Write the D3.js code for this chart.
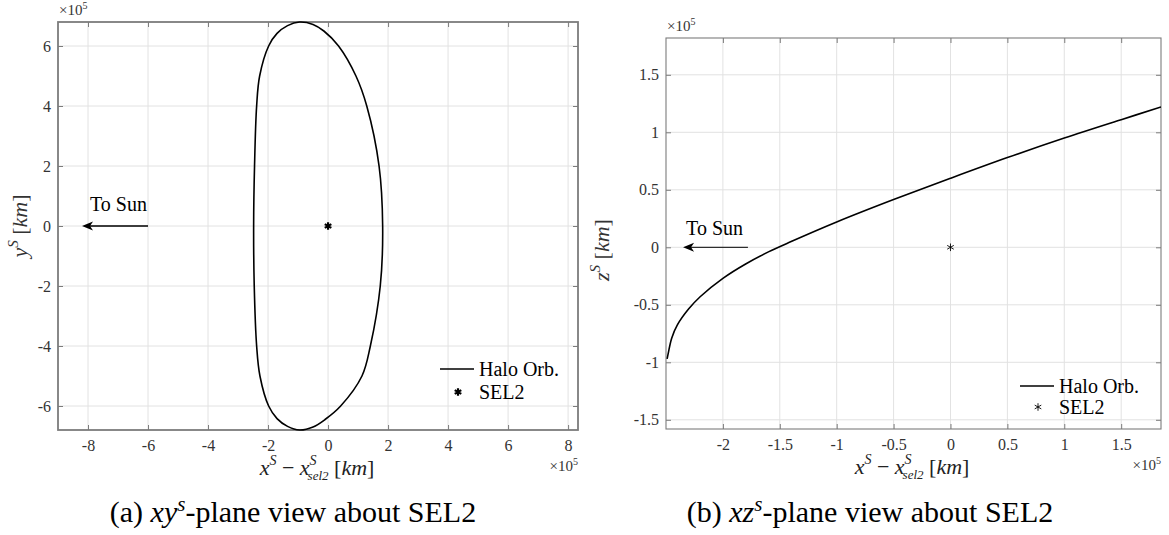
<!DOCTYPE html>
<html>
<head>
<meta charset="utf-8">
<script src="https://cdn.jsdelivr.net/npm/d3@7"></script>
<style>
  body { margin: 0; background: #fff; }
  svg, svg text { font-family: "Liberation Serif", "Tinos", "Times New Roman", "DejaVu Serif", "Noto Serif", serif; }
</style>
</head>
<body>
<script>
// halo orbit, xy view (units of 1e5 km)
const haloXY_x = [-0.95, -0.50, -0.14, 0.35, 0.93, 1.29, 1.70, 1.82, 1.74, 1.41, 1.13, 0.42, -0.10, -0.50, -0.95,
                  -1.35, -1.70, -1.98, -2.27, -2.38, -2.46, -2.48, -2.45, -2.38, -2.28, -1.98, -1.70, -1.35];
const haloXY_y = [6.8, 6.72, 6.5, 6.0, 5.0, 4.0, 2.0, 0.0, -2.0, -4.0, -5.0, -6.0, -6.45, -6.7, -6.8,
                  -6.68, -6.42, -6.0, -5.0, -4.0, -2.0, 0.0, 2.0, 4.0, 5.0, 6.0, 6.42, 6.68];

// halo orbit, xz view
const haloXZ_x = [-2.49, -2.48, -2.45, -2.4, -2.3, -2.2, -2.0, -1.8, -1.6, -1.4, -1.0, -0.5, 0.0, 0.5, 1.0, 1.5, 1.85];
const haloXZ_z = [-0.97, -0.92, -0.79, -0.675, -0.535, -0.43, -0.27, -0.145, -0.04, 0.05, 0.22, 0.415, 0.60, 0.78, 0.95, 1.11, 1.22];

const sel2 = [0, 0];

const xyTicksX = [-8, -6, -4, -2, 0, 2, 4, 6, 8];
const xyTicksY = [-6, -4, -2, 0, 2, 4, 6];
const xzTicksX = [-2, -1.5, -1, -0.5, 0, 0.5, 1, 1.5];
const xzTicksY = [-1.5, -1, -0.5, 0, 0.5, 1, 1.5];

const sunArrowXY = [-6, -8.2];
const sunArrowXZ = [-1.78, -2.35];

const legendLabels = ["Halo Orb.", "SEL2"];

const serif = '"Liberation Serif", "Tinos", "Times New Roman", "DejaVu Serif", "Noto Serif", serif';

const svg = d3.select("body").append("svg")
    .attr("width", 1169)
    .attr("height", 535)
    .attr("font-family", serif);

// asterisk marker path (d3.symbolAsterisk if present)
function starPath(size) {
    if (d3.symbolAsterisk) return d3.symbol(d3.symbolAsterisk, size)();
    const r = Math.sqrt(size) / 2;
    let p = "";
    for (let k = 0; k < 3; k++) {
        const a = k * Math.PI / 3 + Math.PI / 2;
        p += `M${-r * Math.cos(a)},${-r * Math.sin(a)}L${r * Math.cos(a)},${r * Math.sin(a)}`;
    }
    return p;
}

function panel(o) {
    const g = svg.append("g");
    const x = d3.scaleLinear().domain(o.xDom).range([o.left, o.right]);
    const y = d3.scaleLinear().domain(o.yDom).range([o.bottom, o.top]);

    const clipId = "clip" + o.id;
    svg.append("clipPath").attr("id", clipId)
        .append("rect")
        .attr("x", o.left).attr("y", o.top - 1)
        .attr("width", o.right - o.left).attr("height", o.bottom - o.top + 2);

    // grid
    g.selectAll(".gx").data(o.ticksX).enter().append("line")
        .attr("x1", d => x(d)).attr("x2", d => x(d))
        .attr("y1", o.top).attr("y2", o.bottom)
        .attr("stroke", "#e2e2e2").attr("stroke-width", 1);
    g.selectAll(".gy").data(o.ticksY).enter().append("line")
        .attr("y1", d => y(d)).attr("y2", d => y(d))
        .attr("x1", o.left).attr("x2", o.right)
        .attr("stroke", "#e2e2e2").attr("stroke-width", 1);

    // axes with inward ticks
    const fmt = d => String(d);
    const axCol = "#7c7c7c";
    const bottomAx = g.append("g")
        .attr("transform", "translate(0," + o.bottom + ")")
        .call(d3.axisBottom(x).tickValues(o.ticksX).tickFormat(fmt).tickSizeInner(-5).tickSizeOuter(0).tickPadding(10));
    const leftAx = g.append("g")
        .attr("transform", "translate(" + o.left + ",0)")
        .call(d3.axisLeft(y).tickValues(o.ticksY).tickFormat(fmt).tickSizeInner(-5).tickSizeOuter(0).tickPadding(7));
    const topAx = g.append("g")
        .attr("transform", "translate(0," + o.top + ")")
        .call(d3.axisTop(x).tickValues(o.ticksX).tickFormat("").tickSizeInner(-5).tickSizeOuter(0));
    const rightAx = g.append("g")
        .attr("transform", "translate(" + o.right + ",0)")
        .call(d3.axisRight(y).tickValues(o.ticksY).tickFormat("").tickSizeInner(-5).tickSizeOuter(0));
    [bottomAx, leftAx, topAx, rightAx].forEach(a => {
        a.attr("font-family", serif).attr("font-size", 16);
        a.select(".domain").remove();
        a.selectAll(".tick line").attr("stroke", axCol).attr("stroke-width", 1);
        a.selectAll("text").attr("fill", "#333");
    });

    g.append("rect")
        .attr("x", o.left).attr("y", o.top)
        .attr("width", o.right - o.left).attr("height", o.bottom - o.top)
        .attr("fill", "none").attr("stroke", axCol).attr("stroke-width", o.boxW);

    // halo orbit
    const line = d3.line()
        .x(d => x(d[0])).y(d => y(d[1]))
        .curve(o.closed ? d3.curveCatmullRomClosed : d3.curveCatmullRom);
    g.append("path")
        .datum(o.px.map((v, i) => [v, o.py[i]]))
        .attr("clip-path", "url(#" + clipId + ")")
        .attr("d", line)
        .attr("fill", "none").attr("stroke", "#000").attr("stroke-width", 1.6);

    // SEL2
    g.append("path")
        .attr("d", starPath(o.starSize))
        .attr("transform", "translate(" + x(sel2[0]) + "," + y(sel2[1]) + ")")
        .attr("fill", "none").attr("stroke", "#000").attr("stroke-width", o.starW);

    // To Sun arrow
    const ay = y(0);
    const x0 = x(o.arrow[0]), x1 = x(o.arrow[1]);
    g.append("line")
        .attr("x1", x0).attr("x2", x1 + 6).attr("y1", ay).attr("y2", ay)
        .attr("stroke", "#000").attr("stroke-width", o.arrowW);
    g.append("path")
        .attr("d", `M${x1},${ay}L${x1 + 11},${ay - 4.5}L${x1 + 8},${ay}L${x1 + 11},${ay + 4.5}Z`)
        .attr("fill", "#000");
    g.append("text")
        .attr("x", x1 + o.sunDx).attr("y", ay - o.sunDy)
        .attr("font-size", 20).attr("fill", "#000")
        .text("To Sun");

    // legend
    const lg = g.append("g").attr("transform", "translate(" + o.legX + "," + o.legY + ")");
    lg.append("line").attr("x1", 0).attr("x2", 34).attr("y1", 0).attr("y2", 0)
        .attr("stroke", "#000").attr("stroke-width", 1.6);
    lg.append("path").attr("d", starPath(o.starSize))
        .attr("transform", "translate(18," + o.legGap + ")")
        .attr("fill", "none").attr("stroke", "#000").attr("stroke-width", o.starW);
    lg.selectAll(".lt").data(legendLabels).enter().append("text")
        .attr("x", 39).attr("y", (d, i) => i * o.legGap)
        .attr("dy", "0.33em")
        .attr("font-size", 20).attr("fill", "#000")
        .text(d => d);

    // exponent labels
    const expo = (tx, ty, anchor) => {
        const t = g.append("text").attr("x", tx).attr("y", ty)
            .attr("text-anchor", anchor)
            .attr("font-size", 15).attr("fill", "#333");
        t.append("tspan").text("×10");
        t.append("tspan").attr("dy", -6).attr("font-size", 10).text("5");
    };
    expo(o.left + 1, o.top - 7, "start");
    expo(o.right, o.bottom + 41, "end");

    // x label
    const xl = g.append("text")
        .attr("x", o.xLabX).attr("y", o.bottom + 45)
        .attr("text-anchor", "middle")
        .attr("font-size", 22).attr("fill", "#222");
    xl.append("tspan").attr("font-style", "italic").text("x");
    xl.append("tspan").attr("dy", -10).attr("font-size", 14).attr("font-style", "italic").text("S");
    xl.append("tspan").attr("dy", 10).text(" − ");
    xl.append("tspan").attr("font-style", "italic").text("x");
    xl.append("tspan").attr("dy", -10).attr("font-size", 14).attr("font-style", "italic").text("S");
    xl.append("tspan").attr("dy", 15).attr("dx", -9).attr("font-size", 13).attr("font-style", "italic").text("sel2");
    xl.append("tspan").attr("dy", -5).text(" [");
    xl.append("tspan").attr("font-style", "italic").text("km");
    xl.append("tspan").text("]");

    // y label
    const yl = g.append("text")
        .attr("transform", "translate(" + o.yLabX + "," + o.yLabY + ") rotate(-90)")
        .attr("text-anchor", "middle")
        .attr("font-size", 22).attr("fill", "#333");
    yl.append("tspan").attr("font-style", "italic").text(o.yName);
    yl.append("tspan").attr("dy", -9).attr("font-size", 15).attr("font-style", "italic").text("S");
    yl.append("tspan").attr("dy", 9).text(" [");
    yl.append("tspan").attr("font-style", "italic").text("km");
    yl.append("tspan").text("]");

    // caption
    const cap = g.append("text")
        .attr("x", o.capX).attr("y", 522)
        .attr("text-anchor", "middle")
        .attr("font-size", 30).attr("fill", "#000");
    cap.append("tspan").text(o.capTag + " ");
    cap.append("tspan").attr("font-style", "italic").text(o.capVar);
    cap.append("tspan").attr("dy", -11).attr("font-size", 21).attr("font-style", "italic").text("s");
    cap.append("tspan").attr("dy", 11).text("-plane view about SEL2");
}

panel({
    id: "a", left: 58, right: 578, top: 22, bottom: 430,
    xDom: [-9, 8.33], yDom: [-6.8, 6.8],
    ticksX: xyTicksX, ticksY: xyTicksY,
    px: haloXY_x, py: haloXY_y, closed: true,
    boxW: 1.8, starSize: 40, starW: 2.2,
    arrow: sunArrowXY, arrowW: 1.4, sunDx: 8, sunDy: 15,
    legX: 440, legY: 369, legGap: 23,
    xLabX: 317, yLabX: 27, yLabY: 226, yName: "y",
    capX: 293, capTag: "(a)", capVar: "xy"
});

panel({
    id: "b", left: 666, right: 1161, top: 38, bottom: 429,
    xDom: [-2.5, 1.85], yDom: [-1.58, 1.82],
    ticksX: xzTicksX, ticksY: xzTicksY,
    px: haloXZ_x, py: haloXZ_z, closed: false,
    boxW: 1.1, starSize: 40, starW: 0.9,
    arrow: sunArrowXZ, arrowW: 1, sunDx: 3, sunDy: 12,
    legX: 1020, legY: 386, legGap: 21,
    xLabX: 912, yLabX: 609, yLabY: 250, yName: "z",
    capX: 870, capTag: "(b)", capVar: "xz"
});
</script>
</body>
</html>
